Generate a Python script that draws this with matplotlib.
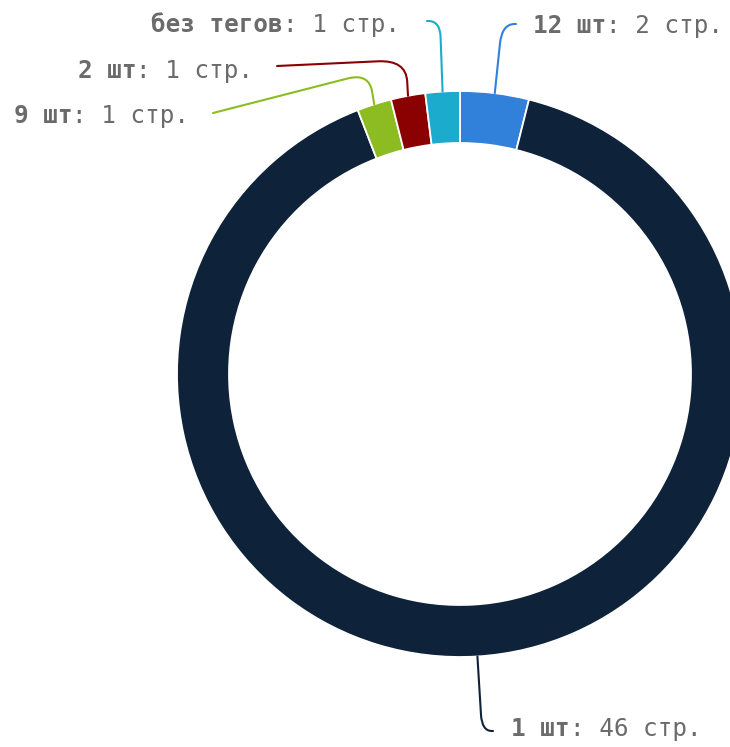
import numpy as np
import matplotlib
matplotlib.use("Agg")
import matplotlib.pyplot as plt
from matplotlib.path import Path
from matplotlib.patches import PathPatch

# ---- data ----
names = ["12 шт", "1 шт", "9 шт", "2 шт", "без тегов"]
values = [2, 46, 1, 1, 1]
unit = "стр."
colors = ["#3180d9", "#0e233a", "#8cbc22", "#8b0000", "#1babcc"]

# ---- layout (pixel coordinates, y downward) ----
W, H = 730, 747
center = (460, 374)
R_out, R_in = 283, 231
labels_layout = {
    "12 шт":     dict(xy=(533, 26), ha="left",  elbow=(502, 24), end=(516, 24), rad=20),
    "1 шт":      dict(xy=(511, 729), ha="left", elbow=(482, 731), end=(493, 731), rad=16),
    "9 шт":      dict(xy=(189, 116), ha="right", elbow=(369, 73), end=(213, 113), rad=22),
    "2 шт":      dict(xy=(253, 71), ha="right", elbow=(406, 60), end=(277, 66), rad=28),
    "без тегов": dict(xy=(400, 25), ha="right", elbow=(440, 21), end=(427, 21), rad=16),
}
text_color = "#6b6b6b"
fs = 17.5
mono = "DejaVu Sans Mono"

fig = plt.figure(figsize=(W / 100, H / 100), dpi=100)
ax = fig.add_axes([0, 0, 1, 1])

wedges, _ = ax.pie(values, colors=colors, startangle=-90, counterclock=True,
                   radius=R_out, center=center,
                   wedgeprops=dict(width=R_out - R_in, edgecolor="white", linewidth=1.3))
ax.set_xlim(0, W)
ax.set_ylim(H, 0)
ax.set_aspect("equal")
ax.axis("off")

fig.canvas.draw()
renderer = fig.canvas.get_renderer()


def leader(p0, elbow, p2, rad, color):
    p0 = np.array(p0, float); e = np.array(elbow, float); p2 = np.array(p2, float)
    d1 = (e - p0) / np.linalg.norm(e - p0)
    d2 = (p2 - e) / np.linalg.norm(p2 - e)
    r1 = min(rad, 0.6 * np.linalg.norm(e - p0))
    r2 = min(rad, 0.9 * np.linalg.norm(p2 - e))
    q1 = e - d1 * r1
    q2 = e + d2 * r2
    verts = [p0, q1, e, q2, p2]
    codes = [Path.MOVETO, Path.LINETO, Path.CURVE3, Path.CURVE3, Path.LINETO]
    ax.add_patch(PathPatch(Path(verts, codes), facecolor="none", edgecolor=color,
                           linewidth=1.5, capstyle="round", zorder=3))


for w, name, val, col in zip(wedges, names, values, colors):
    mid = np.deg2rad((w.theta1 + w.theta2) / 2)
    anchor = (center[0] + R_out * np.cos(mid), center[1] + R_out * np.sin(mid))
    lay = labels_layout[name]
    leader(anchor, lay["elbow"], lay["end"], lay["rad"], col)

    x, y = lay["xy"]
    rest = f": {val} {unit}"
    if lay["ha"] == "left":
        t1 = ax.text(x, y, name, fontfamily=mono, fontweight="bold", fontsize=fs,
                     color=text_color, ha="left", va="center")
        bb = t1.get_window_extent(renderer)
        x2 = ax.transData.inverted().transform((bb.x1, bb.y0))[0]
        ax.text(x2, y, rest, fontfamily=mono, fontsize=fs, color=text_color,
                ha="left", va="center")
    else:
        t2 = ax.text(x, y, rest, fontfamily=mono, fontsize=fs, color=text_color,
                     ha="right", va="center")
        bb = t2.get_window_extent(renderer)
        x1 = ax.transData.inverted().transform((bb.x0, bb.y0))[0]
        ax.text(x1, y, name, fontfamily=mono, fontweight="bold", fontsize=fs,
                color=text_color, ha="right", va="center")

fig.savefig("out.png", dpi=100)
